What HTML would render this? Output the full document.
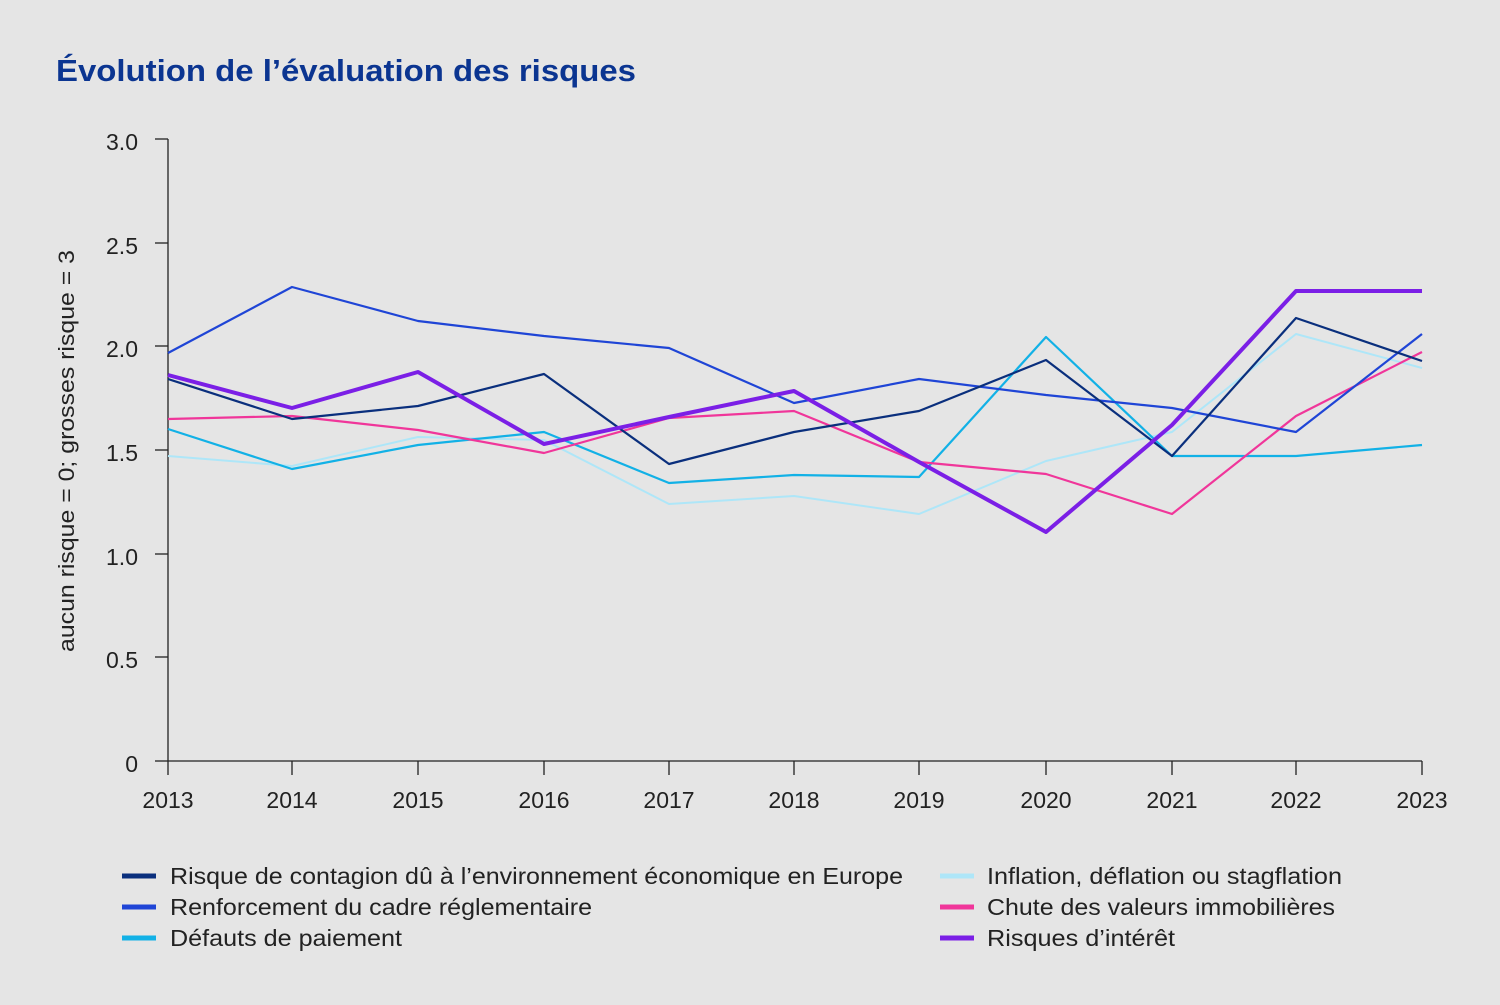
<!DOCTYPE html>
<html><head><meta charset="utf-8"><style>
body{margin:0;background:#e5e5e5;font-family:"Liberation Sans",sans-serif;}
</style></head><body>
<svg width="1500" height="1000" xmlns="http://www.w3.org/2000/svg" font-family="Liberation Sans, sans-serif">
<rect width="1500" height="1000" fill="#e5e5e5"/>
<text x="56" y="81" font-size="31" font-weight="bold" fill="#0b3591" textLength="580" lengthAdjust="spacingAndGlyphs">Évolution de l’évaluation des risques</text>
<g stroke="#222" stroke-width="1.3" fill="none">
<line x1="168" y1="139" x2="168" y2="761"/>
<line x1="168" y1="761" x2="1422" y2="761"/>
<line x1="155" y1="139" x2="168" y2="139"/><line x1="155" y1="243" x2="168" y2="243"/>
<line x1="155" y1="346" x2="168" y2="346"/><line x1="155" y1="450" x2="168" y2="450"/>
<line x1="155" y1="554" x2="168" y2="554"/><line x1="155" y1="657" x2="168" y2="657"/>
<line x1="155" y1="761" x2="168" y2="761"/>
<line x1="168" y1="761" x2="168" y2="775"/><line x1="292" y1="761" x2="292" y2="775"/>
<line x1="418" y1="761" x2="418" y2="775"/><line x1="544" y1="761" x2="544" y2="775"/>
<line x1="669" y1="761" x2="669" y2="775"/><line x1="794" y1="761" x2="794" y2="775"/>
<line x1="919" y1="761" x2="919" y2="775"/><line x1="1046" y1="761" x2="1046" y2="775"/>
<line x1="1172" y1="761" x2="1172" y2="775"/><line x1="1296" y1="761" x2="1296" y2="775"/>
<line x1="1422" y1="761" x2="1422" y2="775"/>
</g>
<g font-size="23" fill="#222" text-anchor="end">
<text x="138" y="150">3.0</text><text x="138" y="254">2.5</text><text x="138" y="357">2.0</text>
<text x="138" y="461">1.5</text><text x="138" y="565">1.0</text><text x="138" y="668">0.5</text><text x="138" y="772">0</text>
</g>
<g font-size="23" fill="#222" text-anchor="middle">
<text x="168" y="808">2013</text><text x="292" y="808">2014</text><text x="418" y="808">2015</text>
<text x="544" y="808">2016</text><text x="669" y="808">2017</text><text x="794" y="808">2018</text>
<text x="919" y="808">2019</text><text x="1046" y="808">2020</text><text x="1172" y="808">2021</text>
<text x="1296" y="808">2022</text><text x="1422" y="808">2023</text>
</g>
<text transform="translate(74,652) rotate(-90)" font-size="22" fill="#222" textLength="402" lengthAdjust="spacingAndGlyphs">aucun risque = 0; grosses risque = 3</text>
<g fill="none" stroke-linejoin="round">
<polyline stroke="#aee6f8" stroke-width="2" points="168,456 292,466 418,437 544,440 669,504 794,496 919,514 1046,461 1172,432 1296,334 1422,368"/>
<polyline stroke="#12b1e6" stroke-width="2.2" points="168,429 292,469 418,445 544,432 669,483 794,475 919,477 1046,337 1172,456 1296,456 1422,445"/>
<polyline stroke="#f0369a" stroke-width="2.2" points="168,419 292,416 418,430 544,453 669,418 794,411 919,462 1046,474 1172,514 1296,416 1422,352"/>
<polyline stroke="#1f45d6" stroke-width="2.2" points="168,353 292,287 418,321 544,336 669,348 794,403 919,379 1046,395 1172,408 1296,432 1422,334"/>
<polyline stroke="#0a2f7d" stroke-width="2.2" points="168,379 292,419 418,406 544,374 669,464 794,432 919,411 1046,360 1172,456 1296,318 1422,361"/>
<polyline stroke="#7b1fe6" stroke-width="4" points="168,375 292,408 418,372 544,444 669,417 794,391 919,462 1046,532 1172,425 1296,291 1422,291"/>
</g>
<g stroke-width="5">
<line x1="122" y1="876" x2="156" y2="876" stroke="#0a2f7d"/>
<line x1="122" y1="907" x2="156" y2="907" stroke="#1f45d6"/>
<line x1="122" y1="938" x2="156" y2="938" stroke="#12b1e6"/>
<line x1="940" y1="876" x2="974" y2="876" stroke="#aee6f8"/>
<line x1="940" y1="907" x2="974" y2="907" stroke="#f0369a"/>
<line x1="940" y1="938" x2="974" y2="938" stroke="#7b1fe6"/>
</g>
<g font-size="23" fill="#222" lengthAdjust="spacingAndGlyphs">
<text x="170" y="884" textLength="733" lengthAdjust="spacingAndGlyphs">Risque de contagion dû à l’environnement économique en Europe</text>
<text x="170" y="915" textLength="422" lengthAdjust="spacingAndGlyphs">Renforcement du cadre réglementaire</text>
<text x="170" y="946" textLength="232" lengthAdjust="spacingAndGlyphs">Défauts de paiement</text>
<text x="987" y="884" textLength="355" lengthAdjust="spacingAndGlyphs">Inflation, déflation ou stagflation</text>
<text x="987" y="915" textLength="348" lengthAdjust="spacingAndGlyphs">Chute des valeurs immobilières</text>
<text x="987" y="946" textLength="188" lengthAdjust="spacingAndGlyphs">Risques d’intérêt</text>
</g>
</svg>
</body></html>
